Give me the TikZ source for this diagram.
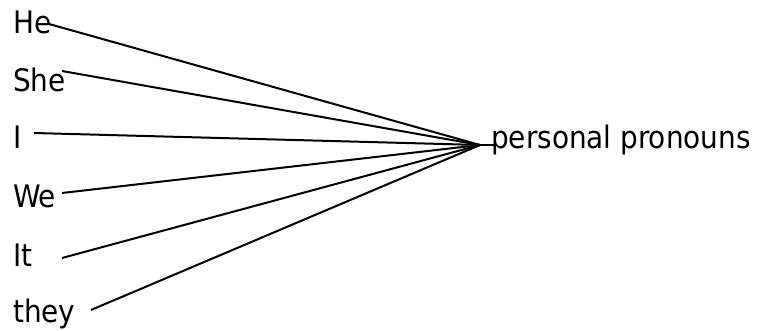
\documentclass[tikz,border=0pt]{standalone}
\usepackage{fontspec}
\setmainfont{DejaVu Sans Condensed}
\begin{document}
\begin{tikzpicture}[x=1pt,y=-1pt,
  word/.style={anchor=base west,inner sep=0pt,font=\fontsize{31}{36}\selectfont},
  link/.style={line width=2pt,black}]
\useasboundingbox (0,0) rectangle (758,331);
\node[word] (he)   at (13,34)  {He};
\node[word] (she)  at (13,92)  {She};
\node[word] (i)    at (13,149) {I};
\node[word] (we)   at (13,208) {We};
\node[word] (it)   at (13,266) {It};
\node[word] (they) at (13,322) {they};
\node[word] (pp)   at (491,149) {personal pronouns};
\coordinate (hub) at (480,145);
\coordinate (he0) at (49,24);
\coordinate (she0) at (62,71);
\coordinate (i0) at (34,133);
\coordinate (we0) at (62,193);
\coordinate (it0) at (62,258);
\coordinate (they0) at (91,310);
\coordinate (pp0) at (pp.west |- hub);
\draw[link] (he0) -- (hub);
\draw[link] (she0) -- (hub);
\draw[link] (i0) -- (hub);
\draw[link] (we0) -- (hub);
\draw[link] (it0) -- (hub);
\draw[link] (they0) -- (hub);
\draw[link] (hub) -- ([xshift=3pt]pp0);
\end{tikzpicture}
\end{document}
